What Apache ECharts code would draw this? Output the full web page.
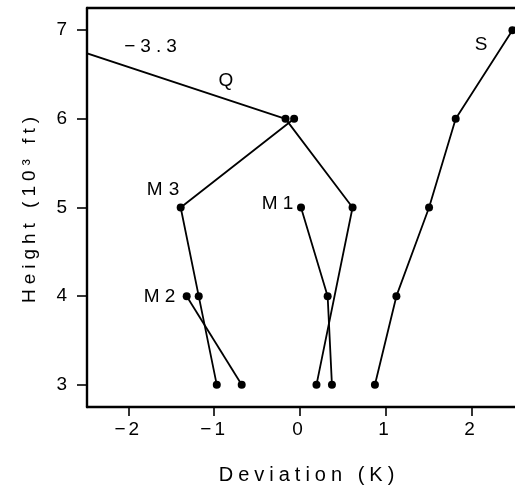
<!DOCTYPE html>
<html>
<head>
<meta charset="utf-8">
<script src="https://cdn.jsdelivr.net/npm/echarts@6/dist/echarts.min.js"></script>
<style>html,body{margin:0;padding:0;background:#fff;}#c{width:515px;height:490px;}</style>
</head>
<body>
<div id="c"></div>
<script>
// ---- data (deviation in K, height in 10^3 ft) ----
const xTicks = [-2, -1, 0, 1, 2];
const yTicks = [3, 4, 5, 6, 7];

const sHeight = [3, 4, 5, 6, 7];
const sDev    = [0.87, 1.12, 1.50, 1.81, 2.47];

const m1Height = [5, 4, 3];
const m1Dev    = [0.01, 0.32, 0.37];

const qHeight = [3, 5, 6, 7];
const qDev    = [0.19, 0.61, -0.17, -3.3];

const m3Height = [6, 5, 4, 3];
const m3Dev    = [-0.07, -1.39, -1.18, -0.97];

const m2Height = [4, 3];
const m2Dev    = [-1.32, -0.68];

const annotations = ['−3.3', 'Q', 'S', 'M3', 'M1', 'M2'];

// letter spacing for the widely-set lettering of the original
const spacing = {'−3.3': '5px', 'M1': '5px', 'M2': '5px', 'M3': '6px', 'Q': '0px', 'S': '0px',
  '−2': '3px', '−1': '3px',
  'Deviation (K)': '5px', 'Height (10³ ft)': '5px'};
const origFill = CanvasRenderingContext2D.prototype.fillText;
CanvasRenderingContext2D.prototype.fillText = function (t, x, y, w) {
  const sp = spacing[t];
  if (sp !== undefined && 'letterSpacing' in this) {
    const prev = this.letterSpacing;
    this.letterSpacing = sp;
    const r = w === undefined ? origFill.call(this, t, x, y) : origFill.call(this, t, x, y, w);
    this.letterSpacing = prev;
    return r;
  }
  return w === undefined ? origFill.call(this, t, x, y) : origFill.call(this, t, x, y, w);
};

const FONT = 'Liberation Sans';
function pairs(xs, ys) { return xs.map((v, i) => [v, ys[i]]); }
function lineSeries(name, xs, ys) {
  return {
    name: name, type: 'line', data: pairs(xs, ys),
    symbol: 'circle', symbolSize: 8, clip: true,
    lineStyle: {color: '#000', width: 1.8},
    itemStyle: {color: '#000'},
    animation: false
  };
}
const minusFmt = v => (v < 0 ? '−' + Math.abs(v) : String(v));

const chart = echarts.init(document.getElementById('c'), null, {renderer: 'canvas'});
const labelPos = {
  '−3.3': [153, 47], 'Q': [226, 81], 'S': [481, 45],
  'M3': [166, 190], 'M1': [280, 204], 'M2': [162, 297]
};
chart.setOption({
  backgroundColor: '#fff',
  animation: false,
  grid: {left: 87, top: 8, width: 430, height: 400, containLabel: false},
  xAxis: [{
    type: 'value', min: -2.48, max: 2.5,
    name: 'Deviation (K)', nameLocation: 'middle', nameGap: 58,
    nameTextStyle: {fontFamily: FONT, fontSize: 20, color: '#000', padding: [0, 0, 0, 16]},
    axisLine: {show: true, onZero: false, lineStyle: {color: '#000', width: 2.4}},
    axisTick: {show: true, inside: false, length: 9, lineStyle: {color: '#000', width: 1.6}, customValues: xTicks},
    axisLabel: {fontFamily: FONT, fontSize: 19, color: '#000', margin: 13, customValues: xTicks,
      formatter: minusFmt},
    splitLine: {show: false}
  }, {
    type: 'value', position: 'top', min: -2.48, max: 2.5,
    axisLine: {show: true, onZero: false, lineStyle: {color: '#000', width: 2.4}},
    axisTick: {show: false}, axisLabel: {show: false}, splitLine: {show: false}
  }],
  yAxis: [{
    type: 'value', min: 2.75, max: 7.25,
    name: 'Height (10³ ft)', nameLocation: 'middle', nameGap: 48, nameRotate: 90,
    nameTextStyle: {fontFamily: FONT, fontSize: 19, color: '#000'},
    axisLine: {show: true, onZero: false, lineStyle: {color: '#000', width: 2.4}},
    axisTick: {show: true, inside: false, length: 10, lineStyle: {color: '#000', width: 1.6}, customValues: yTicks},
    axisLabel: {fontFamily: FONT, fontSize: 19, color: '#000', margin: 15, customValues: yTicks},
    splitLine: {show: false}
  }],
  series: [
    lineSeries('S', sDev, sHeight),
    lineSeries('M1', m1Dev, m1Height),
    lineSeries('Q', qDev, qHeight),
    lineSeries('M3', m3Dev, m3Height),
    lineSeries('M2', m2Dev, m2Height)
  ],
  graphic: annotations.map(t => ({
    type: 'text', x: labelPos[t][0], y: labelPos[t][1],
    style: {text: t, fontFamily: FONT, fontSize: 19, fill: '#000', align: 'center', verticalAlign: 'middle'}
  }))
});
</script>
</body>
</html>
